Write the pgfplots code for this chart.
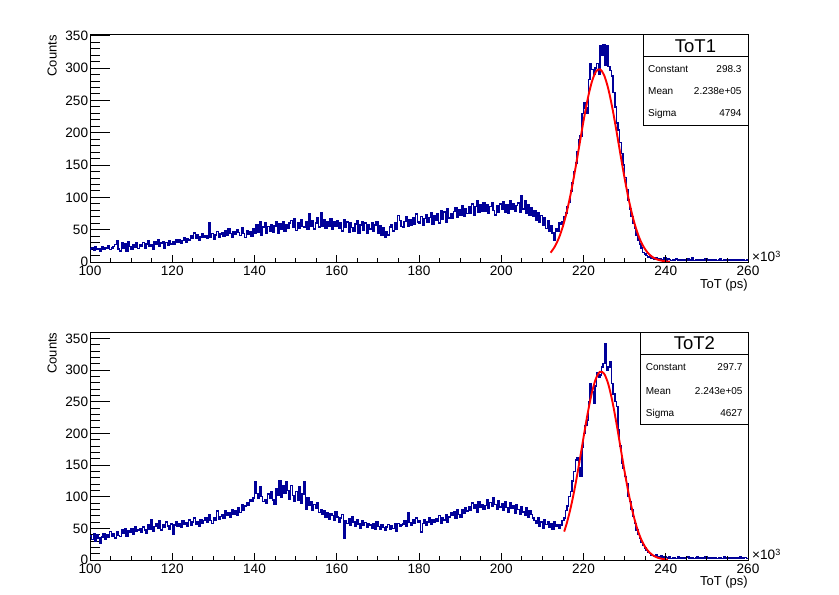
\documentclass[border=0pt]{standalone}
\usepackage{fontspec}
\setmainfont{Liberation Sans}
\usepackage{pgfplots}
\usepackage{pgfplotstable}
\pgfplotsset{compat=1.18}
\definecolor{rootblue}{RGB}{0,0,153}

% ToT1 histogram: 400 bins of 0.4 (x10^3 ps) from 100 to 260, last value repeated to close the step
\pgfplotstableread[row sep=\\]{
y\\
20\\ 22\\ 18\\ 24\\ 19\\ 21\\ 17\\ 23\\ 20\\ 22\\
21\\ 25\\ 19\\ 22\\ 24\\ 27\\ 33\\ 20\\ 17\\ 30\\
22\\ 28\\ 16\\ 31\\ 24\\ 19\\ 27\\ 23\\ 29\\ 21\\
26\\ 24\\ 30\\ 22\\ 28\\ 33\\ 25\\ 27\\ 20\\ 31\\
27\\ 35\\ 24\\ 29\\ 32\\ 22\\ 30\\ 26\\ 33\\ 28\\
31\\ 27\\ 35\\ 30\\ 34\\ 29\\ 33\\ 38\\ 31\\ 36\\
34\\ 40\\ 37\\ 45\\ 36\\ 42\\ 33\\ 39\\ 44\\ 38\\
41\\ 36\\ 60\\ 38\\ 44\\ 35\\ 42\\ 47\\ 39\\ 43\\
45\\ 40\\ 48\\ 42\\ 51\\ 44\\ 39\\ 47\\ 43\\ 50\\
46\\ 41\\ 53\\ 44\\ 38\\ 49\\ 43\\ 47\\ 40\\ 51\\
45\\ 58\\ 46\\ 62\\ 42\\ 54\\ 60\\ 44\\ 55\\ 48\\
58\\ 46\\ 56\\ 63\\ 45\\ 59\\ 50\\ 62\\ 47\\ 57\\
52\\ 60\\ 64\\ 53\\ 67\\ 49\\ 61\\ 52\\ 65\\ 55\\
54\\ 62\\ 50\\ 74\\ 55\\ 64\\ 51\\ 60\\ 68\\ 54\\
76\\ 56\\ 65\\ 52\\ 63\\ 55\\ 67\\ 50\\ 62\\ 56\\
64\\ 52\\ 61\\ 48\\ 65\\ 54\\ 62\\ 46\\ 60\\ 53\\
48\\ 59\\ 64\\ 45\\ 57\\ 62\\ 49\\ 60\\ 44\\ 58\\
51\\ 61\\ 47\\ 57\\ 63\\ 45\\ 56\\ 42\\ 53\\ 38\\
47\\ 42\\ 54\\ 57\\ 48\\ 60\\ 51\\ 72\\ 64\\ 55\\
53\\ 63\\ 70\\ 55\\ 65\\ 57\\ 68\\ 58\\ 74\\ 62\\
60\\ 70\\ 57\\ 67\\ 73\\ 61\\ 69\\ 76\\ 59\\ 71\\
64\\ 74\\ 60\\ 80\\ 66\\ 77\\ 62\\ 82\\ 68\\ 75\\
67\\ 78\\ 84\\ 69\\ 81\\ 72\\ 87\\ 70\\ 82\\ 75\\
85\\ 76\\ 90\\ 72\\ 86\\ 94\\ 77\\ 88\\ 79\\ 91\\
78\\ 89\\ 75\\ 86\\ 92\\ 80\\ 73\\ 87\\ 77\\ 90\\
82\\ 93\\ 77\\ 88\\ 75\\ 95\\ 81\\ 90\\ 78\\ 87\\
91\\ 77\\ 102\\ 82\\ 94\\ 75\\ 88\\ 72\\ 84\\ 70\\
79\\ 65\\ 76\\ 61\\ 72\\ 57\\ 68\\ 52\\ 64\\ 47\\
56\\ 45\\ 34\\ 52\\ 48\\ 60\\ 58\\ 62\\ 70\\ 76\\
85\\ 92\\ 110\\ 122\\ 140\\ 153\\ 170\\ 189\\ 195\\ 230\\
246\\ 238\\ 230\\ 282\\ 307\\ 298\\ 290\\ 300\\ 307\\ 290\\
335\\ 320\\ 336\\ 305\\ 334\\ 302\\ 296\\ 288\\ 262\\ 240\\
215\\ 204\\ 185\\ 168\\ 150\\ 131\\ 112\\ 96\\ 82\\ 70\\
60\\ 52\\ 42\\ 34\\ 28\\ 22\\ 15\\ 12\\ 10\\ 8\\
9\\ 6\\ 7\\ 5\\ 6\\ 4\\ 5\\ 3\\ 4\\ 6\\
3\\ 5\\ 4\\ 2\\ 4\\ 3\\ 5\\ 2\\ 3\\ 4\\
2\\ 4\\ 3\\ 5\\ 2\\ 3\\ 6\\ 2\\ 4\\ 3\\
3\\ 2\\ 4\\ 3\\ 5\\ 2\\ 3\\ 4\\ 2\\ 3\\
4\\ 2\\ 3\\ 5\\ 2\\ 3\\ 2\\ 4\\ 3\\ 2\\
3\\ 2\\ 4\\ 2\\ 3\\ 2\\ 3\\ 4\\ 2\\ 3\\
3\\
}\totone

% ToT2 histogram
\pgfplotstableread[row sep=\\]{
y\\
38\\ 32\\ 42\\ 30\\ 40\\ 35\\ 27\\ 36\\ 41\\ 33\\
40\\ 36\\ 45\\ 38\\ 42\\ 35\\ 44\\ 39\\ 37\\ 48\\
42\\ 50\\ 38\\ 46\\ 44\\ 49\\ 41\\ 52\\ 45\\ 47\\
50\\ 44\\ 52\\ 47\\ 43\\ 55\\ 48\\ 64\\ 46\\ 53\\
58\\ 50\\ 62\\ 47\\ 56\\ 52\\ 60\\ 54\\ 49\\ 57\\
40\\ 55\\ 60\\ 53\\ 58\\ 51\\ 62\\ 56\\ 59\\ 54\\
63\\ 55\\ 60\\ 66\\ 57\\ 61\\ 54\\ 64\\ 58\\ 62\\
66\\ 59\\ 71\\ 62\\ 58\\ 67\\ 63\\ 77\\ 64\\ 69\\
72\\ 66\\ 78\\ 70\\ 75\\ 68\\ 80\\ 73\\ 77\\ 71\\
82\\ 75\\ 88\\ 78\\ 85\\ 90\\ 86\\ 95\\ 92\\ 98\\
123\\ 105\\ 97\\ 115\\ 100\\ 92\\ 95\\ 90\\ 104\\ 98\\
108\\ 95\\ 88\\ 112\\ 102\\ 125\\ 99\\ 118\\ 106\\ 124\\
110\\ 96\\ 118\\ 102\\ 92\\ 108\\ 95\\ 115\\ 90\\ 104\\
123\\ 80\\ 98\\ 86\\ 92\\ 78\\ 88\\ 82\\ 90\\ 75\\
80\\ 72\\ 77\\ 68\\ 75\\ 65\\ 73\\ 70\\ 62\\ 76\\
68\\ 60\\ 66\\ 72\\ 35\\ 62\\ 58\\ 65\\ 55\\ 68\\
60\\ 53\\ 64\\ 57\\ 50\\ 62\\ 55\\ 59\\ 52\\ 58\\
55\\ 50\\ 57\\ 48\\ 60\\ 53\\ 49\\ 56\\ 51\\ 47\\
52\\ 56\\ 48\\ 54\\ 50\\ 57\\ 46\\ 58\\ 53\\ 55\\
57\\ 62\\ 54\\ 74\\ 59\\ 55\\ 63\\ 58\\ 66\\ 60\\
62\\ 44\\ 58\\ 63\\ 55\\ 60\\ 67\\ 57\\ 64\\ 59\\
65\\ 61\\ 70\\ 58\\ 67\\ 63\\ 72\\ 60\\ 68\\ 74\\
70\\ 76\\ 66\\ 79\\ 72\\ 68\\ 80\\ 74\\ 82\\ 77\\
84\\ 78\\ 90\\ 81\\ 87\\ 76\\ 92\\ 83\\ 88\\ 80\\
86\\ 95\\ 82\\ 91\\ 85\\ 98\\ 88\\ 80\\ 93\\ 84\\
89\\ 78\\ 92\\ 83\\ 76\\ 90\\ 82\\ 86\\ 74\\ 88\\
80\\ 72\\ 84\\ 76\\ 70\\ 82\\ 68\\ 78\\ 72\\ 66\\
62\\ 58\\ 66\\ 54\\ 60\\ 50\\ 63\\ 56\\ 61\\ 52\\
58\\ 49\\ 60\\ 53\\ 56\\ 50\\ 55\\ 62\\ 66\\ 78\\
85\\ 100\\ 108\\ 125\\ 140\\ 158\\ 162\\ 145\\ 132\\ 178\\
200\\ 212\\ 221\\ 250\\ 279\\ 265\\ 247\\ 275\\ 295\\ 288\\
292\\ 305\\ 310\\ 342\\ 300\\ 305\\ 313\\ 279\\ 262\\ 250\\
242\\ 205\\ 180\\ 153\\ 145\\ 132\\ 120\\ 100\\ 92\\ 80\\
69\\ 58\\ 47\\ 40\\ 34\\ 28\\ 24\\ 19\\ 16\\ 12\\
10\\ 8\\ 7\\ 6\\ 8\\ 5\\ 4\\ 6\\ 3\\ 5\\
4\\ 3\\ 5\\ 2\\ 4\\ 3\\ 2\\ 5\\ 3\\ 4\\
2\\ 3\\ 4\\ 5\\ 2\\ 3\\ 4\\ 2\\ 3\\ 5\\
3\\ 4\\ 2\\ 3\\ 5\\ 2\\ 4\\ 3\\ 2\\ 4\\
3\\ 2\\ 4\\ 3\\ 2\\ 5\\ 3\\ 2\\ 4\\ 3\\
2\\ 4\\ 3\\ 2\\ 3\\ 5\\ 2\\ 3\\ 4\\ 2\\
2\\
}\tottwo

\pgfplotsset{
  rootmain/.style={
    scale only axis, width=658pt, xmin=100, xmax=260, ymin=0,
    axis line style={line width=0.8pt},
    tick align=inside, tick pos=left,
    major tick length=20pt, minor tick length=10pt,
    tick style={black, line width=0.8pt},
    xtick=\empty, ytick={0,50,...,350}, minor y tick num=4,
    ticklabel style={font=\fontsize{13.6}{15}\selectfont, text=black},
    /pgf/number format/assume math mode=true,
    yticklabel style={inner sep=1.7pt},
  },
  rootx/.style={
    scale only axis, width=658pt, xmin=100, xmax=260, ymin=0,
    axis line style={draw=none},
    tick align=inside, tick pos=left,
    major tick length=7pt, minor tick length=3.5pt,
    tick style={black, line width=0.8pt},
    xtick={100,120,...,260}, minor x tick num=3, ytick=\empty,
    ticklabel style={font=\fontsize{13.6}{15}\selectfont, text=black},
    /pgf/number format/assume math mode=true,
  },
  histo/.style={const plot, rootblue, line width=1.5pt},
  fitline/.style={red, line width=1.9pt, smooth},
}

\begin{document}
\begin{tikzpicture}
\useasboundingbox (0pt,0pt) rectangle (839pt,595pt);

% ---------------- top panel ----------------
\begin{axis}[rootmain, at={(90pt,333pt)}, anchor=south west, height=227.3pt, ymax=351.5]
\addplot[histo] table[x expr=100+0.4*\coordindex, y=y] {\totone};
\addplot[fitline] coordinates {
(212,14.4)(213,23.6)(214,36.9)(215,55.3)(216,79.4)(217,109.1)(218,143.5)
(219,180.7)(220,217.9)(221,251.5)(222,278.0)(223,294.2)(224,298.0)(225,289.1)
(226,268.5)(227,238.7)(228,203.2)(229,165.6)(230,129.3)(231,96.6)(232,69.1)
(233,47.3)(234,31.0)(235,19.5)(236,11.7)(237,6.7)(238,3.7)(239,1.96)(240,0.99)(241,0.48)};
\end{axis}
\begin{axis}[rootx, at={(90pt,333pt)}, anchor=south west, height=227.3pt, ymax=351.5]
\end{axis}

% ---------------- bottom panel ----------------
\begin{axis}[rootmain, at={(90pt,35pt)}, anchor=south west, height=228pt, ymax=360]
\addplot[histo] table[x expr=100+0.4*\coordindex, y=y] {\tottwo};
\addplot[fitline] coordinates {
(215.3,44.9)(216,59.6)(217,85.8)(218,117.8)(219,154.5)(220,193.3)(221,230.9)
(222,263.1)(223,286.2)(224,297.1)(225,294.3)(226,278.3)(227,251.1)(228,216.3)
(229,177.7)(230,139.4)(231,104.3)(232,74.6)(233,50.8)(234,33.1)(235,20.5)
(236,12.2)(237,6.9)(238,3.7)(239,1.9)(240,0.94)(240.5,0.65)};
\end{axis}
\begin{axis}[rootx, at={(90pt,35pt)}, anchor=south west, height=228pt, ymax=360]
\end{axis}

% ---------------- axis titles ----------------
\node[rotate=90, anchor=base east, inner sep=0, font=\fontsize{13}{14}\selectfont] at (56.7pt,560pt) {Counts};
\node[rotate=90, anchor=base east, inner sep=0, font=\fontsize{13}{14}\selectfont] at (56.7pt,262.7pt) {Counts};
\node[anchor=base east, inner sep=0, font=\fontsize{13}{14}\selectfont] at (748pt,306.5pt) {ToT (ps)};
\node[anchor=base east, inner sep=0, font=\fontsize{13}{14}\selectfont] at (748pt,9.7pt) {ToT (ps)};
\node[anchor=base west, inner sep=0, font=\fontsize{13.6}{15}\selectfont] at (752pt,333pt) {×10\raisebox{4.5pt}{\fontsize{9}{10}\selectfont 3}};
\node[anchor=base west, inner sep=0, font=\fontsize{13.6}{15}\selectfont] at (752pt,35pt) {×10\raisebox{4.5pt}{\fontsize{9}{10}\selectfont 3}};

% ---------------- stats boxes ----------------
\draw[line width=0.8pt, fill=white] (643pt,470pt) rectangle (748pt,560.3pt);
\draw[line width=0.8pt] (643pt,539pt) -- (748pt,539pt);
\node[anchor=base, inner sep=0, font=\fontsize{18.5}{20}\selectfont] at (695.5pt,542.5pt) {ToT1};
\begin{scope}[every node/.style={inner sep=0, font=\fontsize{10}{12}\selectfont}]
\node[anchor=base west] at (648pt,522.3pt) {Constant};
\node[anchor=base east] at (741.7pt,522.3pt) {298.3};
\node[anchor=base west] at (648pt,500pt) {Mean};
\node[anchor=base east] at (741.7pt,500pt) {2.238e+05};
\node[anchor=base west] at (648pt,478.3pt) {Sigma};
\node[anchor=base east] at (741.7pt,478.3pt) {4794};
\end{scope}

\draw[line width=0.8pt, fill=white] (640.7pt,171pt) rectangle (748pt,263pt);
\draw[line width=0.8pt] (640.7pt,240.3pt) -- (748pt,240.3pt);
\node[anchor=base, inner sep=0, font=\fontsize{18.5}{20}\selectfont] at (694.4pt,245pt) {ToT2};
\begin{scope}[every node/.style={inner sep=0, font=\fontsize{10}{12}\selectfont}]
\node[anchor=base west] at (645.7pt,224.3pt) {Constant};
\node[anchor=base east] at (742.7pt,224.3pt) {297.7};
\node[anchor=base west] at (645.7pt,200.3pt) {Mean};
\node[anchor=base east] at (742.7pt,200.3pt) {2.243e+05};
\node[anchor=base west] at (645.7pt,178.3pt) {Sigma};
\node[anchor=base east] at (742.7pt,178.3pt) {4627};
\end{scope}
\end{tikzpicture}
\end{document}
